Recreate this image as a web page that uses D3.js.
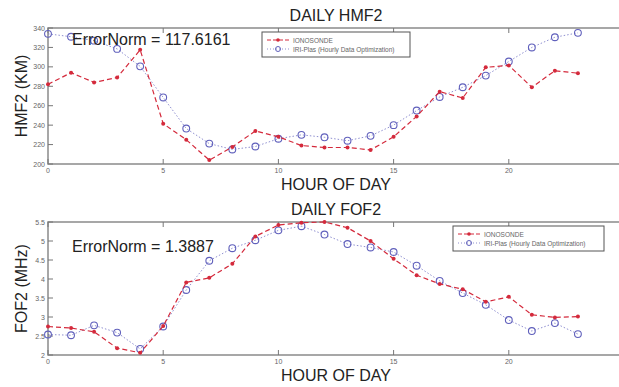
<!DOCTYPE html>
<html>
<head>
<meta charset="utf-8">
<script src="https://cdn.jsdelivr.net/npm/d3@7"></script>
<style>
  body { margin: 0; background: #fff; }
  svg { display: block; font-family: "Liberation Sans", Arial, sans-serif; }
</style>
</head>
<body>
<div id="chart"></div>
<script>
// hours 0..23
var hours = d3.range(0, 24);

// DAILY HMF2 (km)
var hmf2Iono = [282, 294, 284, 289, 317.5, 241.5, 225, 204, 217.5, 234, 228, 219,
                217, 217, 214.5, 228, 249, 274.5, 268, 299.5, 301.5, 279, 296, 293.5];
var hmf2Iri  = [334, 331, 327, 318.5, 300.5, 268.5, 236.5, 221, 215, 218, 226, 230,
                227.5, 224, 229, 240, 255, 269, 279, 291, 305.5, 320, 330.5, 335];

// DAILY FOF2 (MHz)
var fof2Iono = [2.75, 2.71, 2.61, 2.18, 2.06, 2.76, 3.91, 4.03, 4.40, 5.12, 5.42, 5.48,
                5.50, 5.35, 5.00, 4.53, 4.10, 3.87, 3.73, 3.40, 3.53, 3.06, 2.99, 3.01];
var fof2Iri  = [2.54, 2.52, 2.78, 2.59, 2.16, 2.75, 3.71, 4.48, 4.81, 5.02, 5.28, 5.39,
                5.17, 4.92, 4.83, 4.71, 4.35, 3.95, 3.63, 3.32, 2.92, 2.63, 2.84, 2.55];

var xTicks = [0, 5, 10, 15, 20];
var hmf2Ticks = [200, 220, 240, 260, 280, 300, 320, 340];
var fof2Ticks = [2, 2.5, 3, 3.5, 4, 4.5, 5, 5.5];
var legendLabels = ["IONOSONDE", "IRI-Plas (Hourly Data Optimization)"];

var width = 619, height = 387;
var red = "#d42a3c", blue = "#6060bc";

var svg = d3.select("#chart").append("svg")
    .attr("width", width)
    .attr("height", height);

function drawPanel(opt) {
    var x = d3.scaleLinear().domain([0, 25]).range([48, 624]);
    var y = d3.scaleLinear().domain(opt.yDomain).range([opt.bottom, opt.top]);
    var g = svg.append("g");

    // title
    g.append("text")
        .attr("x", 336).attr("y", opt.top - 7)
        .attr("text-anchor", "middle")
        .attr("font-size", 16).attr("fill", "#222")
        .text(opt.title);

    // axes box
    g.append("rect")
        .attr("x", x(0)).attr("y", opt.top)
        .attr("width", x(25) - x(0)).attr("height", opt.bottom - opt.top)
        .attr("fill", "none").attr("stroke", "#8a8a8a").attr("stroke-width", 1.5);

    // x ticks (inside, bottom and top)
    xTicks.forEach(function(t) {
        g.append("line").attr("x1", x(t)).attr("x2", x(t))
            .attr("y1", opt.bottom).attr("y2", opt.bottom - 5)
            .attr("stroke", "#777");
        g.append("line").attr("x1", x(t)).attr("x2", x(t))
            .attr("y1", opt.top).attr("y2", opt.top + 5)
            .attr("stroke", "#777");
        g.append("text")
            .attr("x", x(t)).attr("y", opt.bottom + 9)
            .attr("text-anchor", "middle")
            .attr("font-size", 7).attr("fill", "#666")
            .text(t);
    });

    // y ticks
    opt.yTicks.forEach(function(t) {
        g.append("line").attr("x1", x(0)).attr("x2", x(0) + 5)
            .attr("y1", y(t)).attr("y2", y(t))
            .attr("stroke", "#777");
        g.append("text")
            .attr("x", x(0) - 3).attr("y", y(t) + 2.5)
            .attr("text-anchor", "end")
            .attr("font-size", 7).attr("fill", "#666")
            .text(t);
    });

    // axis labels
    g.append("text")
        .attr("x", 336).attr("y", opt.bottom + 26)
        .attr("text-anchor", "middle")
        .attr("font-size", 16).attr("fill", "#222")
        .text("HOUR OF DAY");
    g.append("text")
        .attr("transform", "translate(27," + ((opt.top + opt.bottom) / 2) + ") rotate(-90)")
        .attr("text-anchor", "middle")
        .attr("font-size", 16).attr("fill", "#222")
        .text(opt.yLabel);

    var line = d3.line()
        .x(function(d, i) { return x(hours[i]); })
        .y(function(d) { return y(d); });

    // IRI-Plas: dotted line, open circles
    g.append("path").datum(opt.iri)
        .attr("d", line).attr("fill", "none")
        .attr("stroke", blue).attr("stroke-width", 1)
        .attr("stroke-dasharray", "1.5,2").attr("opacity", 0.7);
    g.selectAll(".iri").data(opt.iri).join("circle")
        .attr("cx", function(d, i) { return x(hours[i]); })
        .attr("cy", function(d) { return y(d); })
        .attr("r", 3.4)
        .attr("fill", "none").attr("stroke", blue).attr("stroke-width", 1.1);

    // IONOSONDE: dashed line, star markers
    g.append("path").datum(opt.iono)
        .attr("d", line).attr("fill", "none")
        .attr("stroke", red).attr("stroke-width", 1.2)
        .attr("stroke-dasharray", "5,3");
    g.selectAll(".iono").data(opt.iono).join("circle")
        .attr("cx", function(d, i) { return x(hours[i]); })
        .attr("cy", function(d) { return y(d); })
        .attr("r", 2)
        .attr("fill", red);

    // error norm text
    g.append("text")
        .attr("x", 72).attr("y", opt.errY)
        .attr("font-size", 16).attr("fill", "#222")
        .text(opt.errText);

    // legend
    var lg = g.append("g").attr("transform", "translate(" + opt.legX + "," + opt.legY + ")");
    lg.append("rect")
        .attr("width", opt.legW).attr("height", 25)
        .attr("fill", "#fff").attr("stroke", "#555").attr("stroke-width", 1);
    lg.append("line").attr("x1", 5).attr("x2", 27).attr("y1", 8).attr("y2", 8)
        .attr("stroke", red).attr("stroke-dasharray", "4,2");
    lg.append("circle").attr("cx", 16).attr("cy", 8).attr("r", 1.8).attr("fill", red);
    lg.append("line").attr("x1", 5).attr("x2", 27).attr("y1", 17).attr("y2", 17)
        .attr("stroke", blue).attr("stroke-dasharray", "1,2").attr("opacity", 0.7);
    lg.append("circle").attr("cx", 16).attr("cy", 17).attr("r", 2.5)
        .attr("fill", "none").attr("stroke", blue);
    legendLabels.forEach(function(l, i) {
        lg.append("text")
            .attr("x", 31).attr("y", 10.5 + i * 9)
            .attr("font-size", 6.5).attr("fill", "#666")
            .text(l);
    });
}

drawPanel({
    title: "DAILY HMF2", yLabel: "HMF2 (KM)",
    top: 28, bottom: 164, yDomain: [200, 340], yTicks: hmf2Ticks,
    iono: hmf2Iono, iri: hmf2Iri,
    errText: "ErrorNorm = 117.6161", errY: 45,
    legX: 262, legY: 32, legW: 148
});

drawPanel({
    title: "DAILY FOF2", yLabel: "FOF2 (MHz)",
    top: 222, bottom: 355, yDomain: [2, 5.5], yTicks: fof2Ticks,
    iono: fof2Iono, iri: fof2Iri,
    errText: "ErrorNorm = 1.3887", errY: 252,
    legX: 453, legY: 226, legW: 151
});
</script>
</body>
</html>
